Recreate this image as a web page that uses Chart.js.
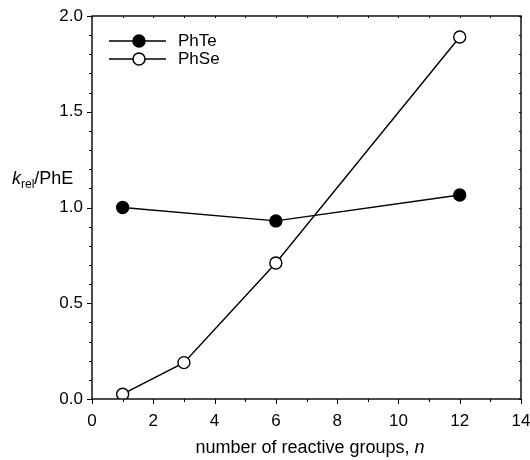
<!DOCTYPE html>
<html>
<head>
<style>
  html, body { margin: 0; padding: 0; background: #fff; }
  #wrap { width: 530px; height: 460px; }
</style>
<script src="https://cdn.jsdelivr.net/npm/chart.js"></script>
</head>
<body>
<div id="wrap"><canvas id="chart" width="530" height="460"></canvas></div>
<script>
// data
const nTe = [1, 6, 12];
const kTe = [1.0, 0.93, 1.065];
const nSe = [1, 3, 6, 12];
const kSe = [0.025, 0.19, 0.71, 1.89];
const xTicks = [0, 2, 4, 6, 8, 10, 12, 14];
const yTicks = [0.0, 0.5, 1.0, 1.5, 2.0];
const seriesNames = ['PhTe', 'PhSe'];

const FONT = '"Liberation Sans", Arial, Helvetica, sans-serif';

// frame, minor ticks, legend and axis titles
const decor = {
  id: 'decor',
  afterDraw(chart) {
    const c = chart.ctx, a = chart.chartArea;
    const xs = chart.scales.x, ys = chart.scales.y;
    c.save();
    c.strokeStyle = '#000';
    c.lineWidth = 1.4;
    c.strokeRect(a.left, a.top, a.right - a.left, a.bottom - a.top);

    c.lineWidth = 1;
    c.beginPath();
    for (let v = 0; v <= 14; v++) {
      const px = Math.round(xs.getPixelForValue(v)) + 0.5;
      const len = v % 2 === 0 ? 5 : 3;
      c.moveTo(px, a.bottom); c.lineTo(px, a.bottom + len);
      c.moveTo(px, a.top); c.lineTo(px, a.top + 2);
    }
    for (let i = 0; i <= 20; i++) {
      const v = i / 10;
      const py = Math.round(ys.getPixelForValue(v)) + 0.5;
      const len = i % 5 === 0 ? 5 : 3;
      c.moveTo(a.left, py); c.lineTo(a.left - len, py);
      c.moveTo(a.right, py); c.lineTo(a.right - 2, py);
    }
    c.stroke();

    // legend
    const rows = [41, 59];
    chart.data.datasets.forEach((ds, i) => {
      const y = rows[i];
      c.lineWidth = 1.5;
      c.beginPath(); c.moveTo(109, y); c.lineTo(166, y); c.stroke();
      c.beginPath(); c.arc(139, y, 6, 0, Math.PI * 2);
      c.fillStyle = ds.pointBackgroundColor; c.fill(); c.stroke();
      c.fillStyle = '#000';
      c.font = '17px ' + FONT;
      c.textBaseline = 'middle';
      c.textAlign = 'left';
      c.fillText(ds.label, 178, y);
    });

    // y title: k_rel/PhE
    c.textBaseline = 'alphabetic';
    let x = 12; const yb = 184;
    c.font = 'italic 18px ' + FONT;
    c.fillText('k', x, yb); x += c.measureText('k').width;
    c.font = '12px ' + FONT;
    c.fillText('rel', x, yb + 4); x += c.measureText('rel').width;
    c.font = '18px ' + FONT;
    c.fillText('/PhE', x, yb);

    // x title
    const t1 = 'number of reactive groups, ';
    c.font = '18px ' + FONT;
    const w1 = c.measureText(t1).width;
    c.font = 'italic 18px ' + FONT;
    const w2 = c.measureText('n').width;
    const sx = 310 - (w1 + w2) / 2;
    c.font = '18px ' + FONT;
    c.fillText(t1, sx, 453);
    c.font = 'italic 18px ' + FONT;
    c.fillText('n', sx + w1, 453);
    c.restore();
  }
};

new Chart(document.getElementById('chart'), {
  type: 'line',
  data: {
    datasets: [
      {
        label: seriesNames[0],
        data: nTe.map((n, i) => ({ x: n, y: kTe[i] })),
        borderColor: '#000', borderWidth: 1.4,
        pointBackgroundColor: '#000', pointBorderColor: '#000',
        pointRadius: 6, pointBorderWidth: 1.4, tension: 0
      },
      {
        label: seriesNames[1],
        data: nSe.map((n, i) => ({ x: n, y: kSe[i] })),
        borderColor: '#000', borderWidth: 1.4,
        pointBackgroundColor: '#fff', pointBorderColor: '#000',
        pointRadius: 6, pointBorderWidth: 1.4, tension: 0
      }
    ]
  },
  options: {
    responsive: false,
    animation: false,
    events: [],
    layout: { padding: { top: 16, right: 9, left: 0, bottom: 0 } },
    plugins: { legend: { display: false }, tooltip: { enabled: false } },
    scales: {
      x: {
        type: 'linear', min: 0, max: 14,
        afterBuildTicks: s => { s.ticks = xTicks.map(v => ({ value: v })); },
        afterFit: s => { s.height = 61; s.paddingLeft = 0; s.paddingRight = 0; },
        grid: { display: false, drawTicks: false },
        border: { display: false },
        ticks: { color: '#000', padding: 12, font: { family: FONT, size: 17 } }
      },
      y: {
        type: 'linear', min: 0, max: 2,
        afterBuildTicks: s => { s.ticks = yTicks.map(v => ({ value: v })); },
        afterFit: s => { s.width = 92; s.paddingTop = 0; s.paddingBottom = 0; },
        grid: { display: false, drawTicks: false },
        border: { display: false },
        ticks: {
          color: '#000', padding: 9, font: { family: FONT, size: 17 },
          callback: v => v.toFixed(1)
        }
      }
    }
  },
  plugins: [decor]
});
</script>
</body>
</html>
